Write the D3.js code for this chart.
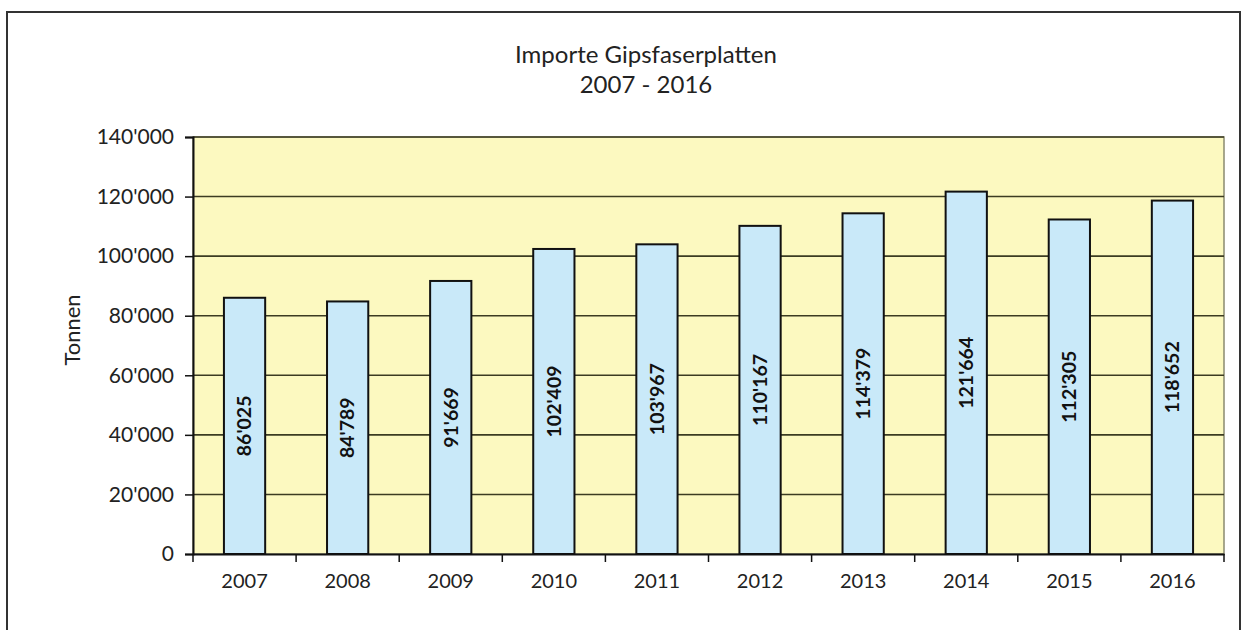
<!DOCTYPE html>
<html><head><meta charset="utf-8">
<script src="https://cdn.jsdelivr.net/npm/d3@7"></script>
<style>body{margin:0;background:#fff;}svg{display:block;font-family:Lato,"Open Sans",sans-serif;}</style>
</head><body>
<svg id="c" width="1249" height="630"></svg>
<script>
const years = ["2007","2008","2009","2010","2011","2012","2013","2014","2015","2016"];
const values = [86025,84789,91669,102409,103967,110167,114379,121664,112305,118652];
const yTicks = [0,20000,40000,60000,80000,100000,120000,140000];
const titleLines = ["Importe Gipsfaserplatten","2007 - 2016"];
const yLabel = "Tonnen";

const svg = d3.select("#c");
const m = {left:193, right:1224, top:137, bottom:554};
const fmt = v => d3.format(",")(v).replace(/,/g,"'");

// outer frame
svg.append("rect").attr("x",7).attr("y",12).attr("width",1233).attr("height",640)
  .attr("fill","none").attr("stroke","#333").attr("stroke-width",2);

const x = d3.scaleBand().domain(years).range([m.left,m.right]).paddingInner(0).paddingOuter(0);
const y = d3.scaleLinear().domain([0,140000]).range([m.bottom,m.top]);

// plot background
svg.append("rect").attr("x",m.left).attr("y",m.top).attr("width",m.right-m.left).attr("height",m.bottom-m.top)
  .attr("fill","#fcf9c0").attr("stroke","#8a8a70").attr("stroke-width",1.5);

// gridlines
svg.append("g").selectAll("line").data(yTicks.filter(t=>t>0)).join("line")
  .attr("x1",m.left).attr("x2",m.right).attr("y1",d=>y(d)).attr("y2",d=>y(d))
  .attr("stroke","#3c3c22").attr("stroke-width",1.6);

// bars
const bw = x.bandwidth()*0.4;
svg.append("g").selectAll("rect").data(values).join("rect")
  .attr("x",(d,i)=>x(years[i])+x.bandwidth()/2-bw/2)
  .attr("y",d=>y(d)).attr("width",bw).attr("height",d=>m.bottom-y(d))
  .attr("fill","#c9e9f9").attr("stroke","#111").attr("stroke-width",2);

// bar labels
svg.append("g").selectAll("text").data(values).join("text")
  .attr("transform",(d,i)=>`translate(${x(years[i])+x.bandwidth()/2},${(y(d)+m.bottom)/2}) rotate(-90)`)
  .attr("text-anchor","middle").attr("dy","0.35em")
  .attr("font-size",19.5).attr("font-weight","bold").attr("fill","#111")
  .text(d=>fmt(d));

// y axis
const ya = svg.append("g").attr("transform",`translate(${m.left},0)`)
  .call(d3.axisLeft(y).tickValues(yTicks).tickFormat(fmt).tickSize(8).tickPadding(11));
ya.select(".domain").attr("stroke","#111").attr("stroke-width",2);
ya.selectAll(".tick line").attr("stroke","#111").attr("stroke-width",1.5);
ya.selectAll("text").attr("font-size",21).attr("fill","#222").attr("font-family","Lato,sans-serif");

// x axis
const xa = svg.append("g").attr("transform",`translate(0,${m.bottom})`)
  .call(d3.axisBottom(x).tickSize(0).tickPadding(20));
xa.select(".domain").attr("stroke","#111").attr("stroke-width",2);
xa.selectAll("text").attr("font-size",20).attr("fill","#222").attr("font-family","Lato,sans-serif");
// boundary ticks
const bounds = years.map(yr=>x(yr)).concat([m.right]);
svg.append("g").selectAll("line").data(bounds).join("line")
  .attr("x1",d=>d).attr("x2",d=>d).attr("y1",m.bottom).attr("y2",m.bottom+8)
  .attr("stroke","#111").attr("stroke-width",1.5);

// title
svg.append("g").selectAll("text").data(titleLines).join("text")
  .attr("x",646).attr("y",(d,i)=>63+i*30).attr("text-anchor","middle")
  .attr("font-size",24).attr("fill","#222").text(d=>d);

// y label
svg.append("text").attr("transform","translate(80,330) rotate(-90)")
  .attr("text-anchor","middle").attr("font-size",22).attr("fill","#222").text(yLabel);
</script>
</body></html>
